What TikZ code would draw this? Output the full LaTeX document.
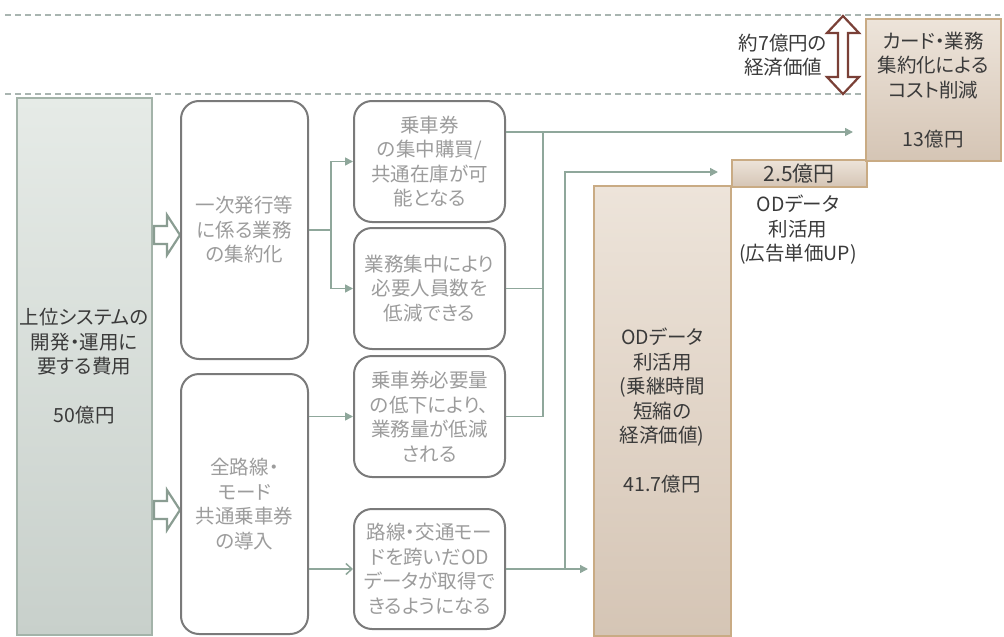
\documentclass[tikz,border=0pt]{standalone}
\usepackage{fontspec}
\setmainfont{Noto Sans CJK JP}[RawFeature=+palt]
\usetikzlibrary{arrows.meta,calc}
\definecolor{dashc}{HTML}{A9B5B1}
\definecolor{connc}{HTML}{8FA79B}
\definecolor{boxgray}{HTML}{7A7A7A}
\definecolor{txtgray}{HTML}{9C9C9C}
\definecolor{txtdark}{HTML}{3A3A3A}
\definecolor{leftedge}{HTML}{A3B3A9}
\definecolor{lefttop}{HTML}{E6EBE7}
\definecolor{leftbot}{HTML}{C8D0CB}
\definecolor{brownedge}{HTML}{C9AB84}
\definecolor{browntop}{HTML}{EDE4DA}
\definecolor{brownbot}{HTML}{D5C5B5}
\definecolor{hollowc}{HTML}{8A9D92}
\definecolor{dblc}{HTML}{7A4037}
\begin{document}
\begin{tikzpicture}[x=1pt,y=-1pt,
  txt/.style={font=\fontsize{19.5}{24.5}\selectfont, align=center, inner sep=0pt},
  gbox/.style={txt, draw=boxgray, line width=2pt, rounded corners=18pt, fill=white, text=txtgray, anchor=north west},
  lbox/.style={txt, draw=leftedge, line width=1.5pt, top color=lefttop, bottom color=leftbot, text=txtdark, anchor=north west},
  bbox/.style={txt, draw=brownedge, line width=1.5pt, top color=browntop, bottom color=brownbot, text=txtdark, anchor=north west},
  conn/.style={draw=connc, line width=1.5pt},
  tip/.style={-{Triangle[length=8pt,width=8pt]}},
  opentip/.style={-{Straight Barb[length=6pt,width=11pt]}},
  dashline/.style={draw=dashc, line width=1.5pt, dash pattern=on 6pt off 4pt},
  hollow/.style={draw=hollowc, line width=2.2pt, fill=white, line join=miter}
]
\useasboundingbox (0,0) rectangle (1004,637);

% dashed guide lines
\draw[dashline] (5,15) -- (1000,15);
\draw[dashline] (5,94) -- (1000,94);

% left cost box
\node[lbox, minimum width=135pt, minimum height=537pt] (cost50) at (16,97)
  {上位システムの\\開発・運用に\\要する費用\\[24.5pt]50億円};

% hollow block arrows
\foreach \c in {235,510} {
  \draw[hollow] (154,\c-9) -- (167,\c-9) -- (167,\c-20) -- (180,\c) -- (167,\c+20) -- (167,\c+9) -- (154,\c+9) -- cycle;
}

% measure boxes
\node[gbox, minimum width=127pt, minimum height=258pt] (ichiji) at (180,100)
  {一次発行等\\に係る業務\\の集約化};
\node[gbox, minimum width=127pt, minimum height=260pt] (zen) at (180,373)
  {全路線・\\モード\\共通乗車券\\の導入};

% effect boxes
\node[gbox, minimum width=151pt, minimum height=121pt] (A) at (353,100)
  {乗車券\\の集中購買/\\共通在庫が可\\能となる};
\node[gbox, minimum width=151pt, minimum height=121pt] (B) at (353,227)
  {業務集中により\\必要人員数を\\低減できる};
\node[gbox, minimum width=151pt, minimum height=121pt] (C) at (353,355)
  {乗車券必要量\\の低下により、\\業務量が低減\\される};
\node[gbox, minimum width=151pt, minimum height=120pt] (D) at (353,508)
  {路線・交通モー\\ドを跨いだOD\\データが取得で\\きるようになる};

% value boxes
\node[bbox, minimum width=137pt, minimum height=450pt] (big) at (593,185)
  {ODデータ\\利活用\\(乗継時間\\短縮の\\経済価値)\\[24.5pt]41.7億円};
\node[bbox, minimum width=135pt, minimum height=27pt, font=\fontsize{21}{24}\selectfont] (mid) at (731,159)
  {2.5億円};
\node[bbox, minimum width=135pt, minimum height=142pt] (cost) at (865,18)
  {カード・業務\\集約化による\\コスト削減\\[24.5pt]13億円};

\node[txt, text=txtdark] (odlabel) at (798,230) {ODデータ\\利活用\\(広告単価UP)};
\node[txt, text=txtdark] (sevenlabel) at (783,55) {約7億円の\\経済価値};

% double arrow (7 oku economic value)
\draw[draw=dblc, line width=2.2pt, fill=white, line join=miter]
  (843,16) -- (859,33) -- (848,33) -- (848,77) -- (859,77) -- (843,94)
  -- (827,77) -- (838,77) -- (838,33) -- (827,33) -- cycle;

% left connectors
\draw[conn] (ichiji.east) -- ++(22,0) coordinate (j1);
\draw[conn,tip] (j1) |- (A.west);
\draw[conn,tip] (j1) |- (B.west);
\draw[conn,tip] (zen.east |- C.west) -- (C.west);
\draw[conn,opentip] (zen.east |- D.west) -- (D.west);

% right connectors
\coordinate (costin) at (853,132);
\coordinate (j2) at (543,132);
\draw[conn,tip] (A.east |- costin) -- (costin);
\draw[conn] (j2) |- (C.east);
\draw[conn] (B.east) -- (B.east -| j2);

\coordinate (midin) at (718,172);
\coordinate (j3) at (565,172);
\draw[conn,tip,shorten >=5pt] (D.east) -- (big.west |- D.east);
\draw[conn,tip] (D.east -| j3) |- (midin);
\end{tikzpicture}
\end{document}
